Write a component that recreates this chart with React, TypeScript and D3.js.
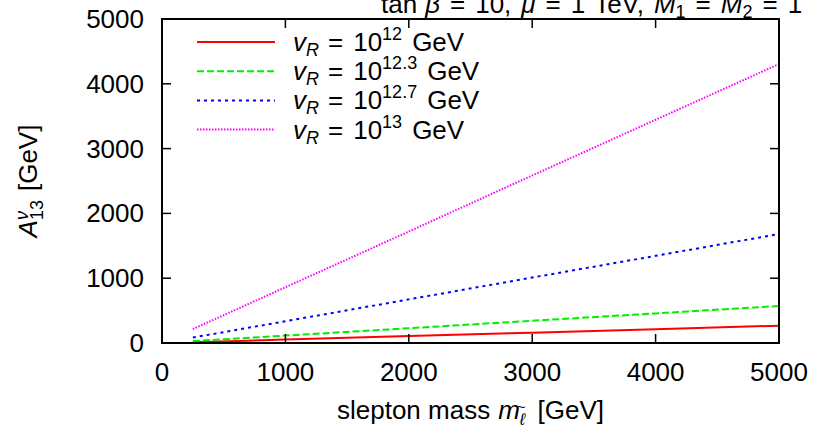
import React from 'react';
import * as d3 from 'd3';

// slepton mass [GeV] and A^nu_13 [GeV]
const masses = [250, 1000, 2000, 3000, 4000, 5000];
const a13_vr12 = [13, 53, 107, 160, 214, 267];
const a13_vr123 = [29, 114, 228, 343, 457, 571];
const a13_vr127 = [84, 336, 673, 1010, 1345, 1682];
const a13_vr13 = [215, 860, 1720, 2585, 3445, 4305];

const xTicks = [0, 1000, 2000, 3000, 4000, 5000];
const yTicks = [0, 1000, 2000, 3000, 4000, 5000];

const series = [
  { exp: '12', values: a13_vr12, color: '#ff0000', dash: '' },
  { exp: '12.3', values: a13_vr123, color: '#00ee00', dash: '7,3' },
  { exp: '12.7', values: a13_vr127, color: '#0000ff', dash: '3,4' },
  { exp: '13', values: a13_vr13, color: '#ff00ff', dash: '1.5,1.5' },
];

const W = 815;
const H = 432;
const margin = { top: 19, right: 36, bottom: 89, left: 162 };
const FONT = "'Liberation Sans', Arial, sans-serif";

export default function App() {
  const x = d3.scaleLinear().domain([0, 5000]).range([margin.left, W - margin.right]);
  const y = d3.scaleLinear().domain([0, 5000]).range([H - margin.bottom, margin.top]);

  const line = d3
    .line<[number, number]>()
    .x((d) => x(d[0]))
    .y((d) => y(d[1]));

  const x0 = x(0), x1 = x(5000), y0 = y(0), y1 = y(5000);
  const tick = 9;

  return (
    <svg width={W} height={H} style={{ position: 'absolute', left: 0, top: 0, background: '#fff' }}
      fontFamily={FONT} fontSize={26}>
      {/* title, cut off at the top and right like the original */}
      <text x={381} y={13}>
        <tspan>tan</tspan>
        <tspan dx={8} fontStyle="italic">β</tspan>
        <tspan dx={10}>=</tspan>
        <tspan dx={10}>10,</tspan>
        <tspan dx={10} fontStyle="italic">μ</tspan>
        <tspan dx={10}>=</tspan>
        <tspan dx={10}>1</tspan>
        <tspan dx={9}>TeV,</tspan>
        <tspan dx={10} fontStyle="italic">M</tspan>
        <tspan fontSize={18} dy={5}>1</tspan>
        <tspan dx={10} dy={-5}>=</tspan>
        <tspan dx={10} fontStyle="italic">M</tspan>
        <tspan fontSize={18} dy={5}>2</tspan>
        <tspan dx={10} dy={-5}>=</tspan>
        <tspan dx={10}>1 TeV</tspan>
      </text>

      {/* data lines */}
      {series.map((s) => (
        <path key={s.exp}
          d={line(masses.map((m, i) => [m, s.values[i]] as [number, number])) || ''}
          fill="none" stroke={s.color} strokeWidth={2} strokeDasharray={s.dash || undefined} />
      ))}

      {/* frame */}
      <rect x={x0} y={y1} width={x1 - x0} height={y0 - y1} fill="none" stroke="#000" strokeWidth={2} />

      {/* ticks, mirrored on all four sides */}
      {xTicks.map((t) => (
        <g key={'xt' + t}>
          <line x1={x(t)} x2={x(t)} y1={y0} y2={y0 - tick} stroke="#000" strokeWidth={1.5} />
          <line x1={x(t)} x2={x(t)} y1={y1} y2={y1 + tick} stroke="#000" strokeWidth={1.5} />
          <text x={x(t)} y={y0 + 38} textAnchor="middle">{t}</text>
        </g>
      ))}
      {yTicks.map((t) => (
        <g key={'yt' + t}>
          <line x1={x0} x2={x0 + tick} y1={y(t)} y2={y(t)} stroke="#000" strokeWidth={1.5} />
          <line x1={x1} x2={x1 - tick} y1={y(t)} y2={y(t)} stroke="#000" strokeWidth={1.5} />
          <text x={x0 - 18} y={y(t) + 9} textAnchor="end">{t}</text>
        </g>
      ))}

      {/* legend */}
      {series.map((s, i) => {
        const ly = 42 + i * 29.2;
        return (
          <g key={'lg' + s.exp}>
            <line x1={197} x2={275} y1={ly} y2={ly} stroke={s.color} strokeWidth={2}
              strokeDasharray={s.dash || undefined} />
            <text x={293} y={ly + 9}>
              <tspan fontStyle="italic">v</tspan>
              <tspan fontStyle="italic" fontSize={18} dy={5}>R</tspan>
              <tspan dx={9} dy={-5}>=</tspan>
              <tspan dx={10}>10</tspan>
              <tspan fontSize={18} dy={-11}>{s.exp}</tspan>
              <tspan dx={10} dy={11}>GeV</tspan>
            </text>
          </g>
        );
      })}

      {/* axis labels */}
      <text x={(x0 + x1) / 2} y={419} textAnchor="middle">
        <tspan>slepton mass</tspan>
        <tspan dx={8} fontStyle="italic">m</tspan>
        <tspan fontStyle="italic" fontSize={17} dy={6}>ℓ</tspan>
        <tspan fontSize={14} dx={-8} dy={-13}>~</tspan>
        <tspan dx={12} dy={7}>[GeV]</tspan>
      </text>
      <text transform={`translate(37, ${(y0 + y1) / 2}) rotate(-90)`} textAnchor="middle">
        <tspan fontStyle="italic">A</tspan>
        <tspan fontSize={18} dy={6}>13</tspan>
        <tspan fontSize={18} fontStyle="italic" dx={-20} dy={-15}>ν</tspan>
        <tspan dx={20} dy={9}>[GeV]</tspan>
      </text>
    </svg>
  );
}
